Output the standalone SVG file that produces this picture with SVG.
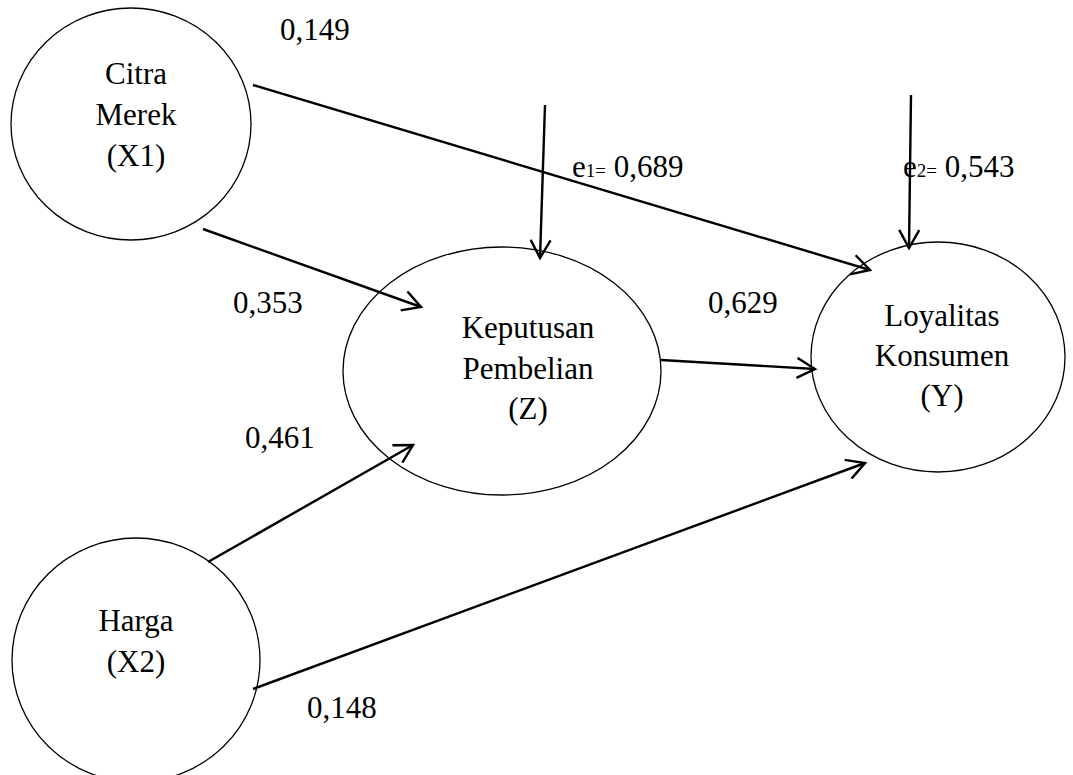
<svg xmlns="http://www.w3.org/2000/svg" width="1073" height="775" viewBox="0 0 1073 775">
<style>
.n{fill:#fff;stroke:#000;stroke-width:1.3}
.t{font-family:"Liberation Serif",serif;font-size:31px;fill:#000;text-anchor:middle}
.l{font-family:"Liberation Serif",serif;font-size:31px;fill:#000}
.s{font-size:19px}
.c line{stroke:#000;stroke-width:2.4;marker-end:url(#a)}
</style>
<defs>
<marker id="a" viewBox="0 0 22 22" refX="19" refY="11" markerWidth="22" markerHeight="22" markerUnits="userSpaceOnUse" orient="auto">
<path d="M1,1 L19,11 L1,21" fill="none" stroke="#000" stroke-width="2.4"/>
</marker>
</defs>
<rect width="1073" height="775" fill="#fff"/>
<g id="citra"><ellipse class="n" cx="131" cy="124" rx="120" ry="116"/>
<text class="t" x="136" y="84">Citra</text><text class="t" x="136" y="125">Merek</text><text class="t" x="136" y="166">(X1)</text></g>
<g id="harga"><ellipse class="n" cx="136" cy="660" rx="124" ry="122"/>
<text class="t" x="136" y="631">Harga</text><text class="t" x="136" y="672">(X2)</text></g>
<g id="keputusan"><ellipse class="n" cx="502" cy="371" rx="159" ry="124"/>
<text class="t" x="528" y="338">Keputusan</text><text class="t" x="528" y="379">Pembelian</text><text class="t" x="528" y="419">(Z)</text></g>
<g id="loyalitas"><ellipse class="n" cx="938" cy="357" rx="127" ry="115"/>
<text class="t" x="942" y="326">Loyalitas</text><text class="t" x="942" y="366">Konsumen</text><text class="t" x="942" y="406">(Y)</text></g>
<g class="c" id="connectors">
<line x1="253" y1="85" x2="870" y2="270"/>
<line x1="203" y1="229" x2="421" y2="307"/>
<line x1="545" y1="105" x2="540" y2="258"/>
<line x1="911" y1="95" x2="909" y2="248"/>
<line x1="661" y1="360" x2="815" y2="369"/>
<line x1="208" y1="562" x2="413" y2="445"/>
<line x1="253" y1="689" x2="865" y2="463"/>
</g>
<g id="labels">
<text class="l" x="280" y="40">0,149</text>
<text class="l" x="233" y="313">0,353</text>
<text class="l" x="708" y="313">0,629</text>
<text class="l" x="245" y="448">0,461</text>
<text class="l" x="307" y="718">0,148</text>
<text class="l" x="572" y="177">e<tspan class="s">1=</tspan> 0,689</text>
<text class="l" x="903" y="177">e<tspan class="s">2=</tspan> 0,543</text>
</g>
</svg>
